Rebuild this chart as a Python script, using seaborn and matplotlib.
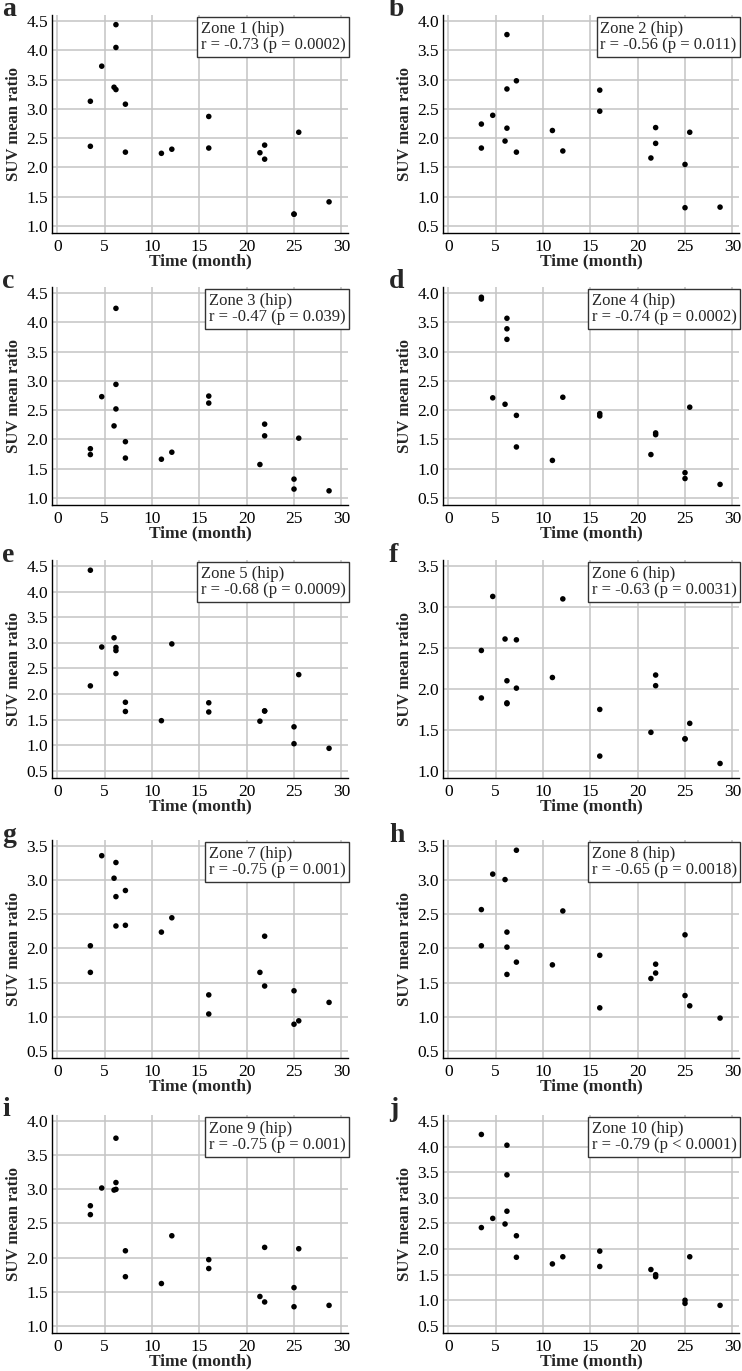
import matplotlib
matplotlib.use("Agg")
import matplotlib.pyplot as plt
import seaborn as sns
import numpy as np
import pandas as pd

# scan times (months), shared by all zones
months = [3.5, 3.5, 4.7, 6.0, 6.2, 6.2, 6.2, 7.2, 7.2, 11.0, 12.1,
          16.0, 16.0, 21.4, 21.9, 21.9, 25.0, 25.0, 25.5, 28.7]

zone1 = [3.13, 2.36, 3.73, 3.37, 3.33, 4.44, 4.05, 3.08, 2.26, 2.24, 2.31, 2.87, 2.33, 2.25, 2.38, 2.14, 1.20, 1.20, 2.60, 1.41]
zone2 = [2.24, 1.83, 2.39, 1.95, 3.77, 2.84, 2.17, 2.98, 1.76, 2.13, 1.78, 2.82, 2.46, 1.66, 2.18, 1.91, 1.55, 0.81, 2.10, 0.82]
zone3 = [1.84, 1.74, 2.73, 2.23, 4.24, 2.94, 2.52, 1.96, 1.68, 1.66, 1.78, 2.74, 2.62, 1.57, 2.26, 2.06, 1.32, 1.15, 2.02, 1.12]
zone4 = [3.93, 3.90, 2.21, 2.10, 3.57, 3.39, 3.21, 1.91, 1.37, 1.14, 2.22, 1.94, 1.90, 1.24, 1.61, 1.58, 0.93, 0.83, 2.05, 0.73]
zone5 = [4.42, 2.16, 2.92, 3.10, 2.91, 2.85, 2.40, 1.84, 1.66, 1.48, 2.98, 1.83, 1.65, 1.47, 1.67, 1.67, 1.36, 1.03, 2.38, 0.94]
zone6 = [2.47, 1.89, 3.13, 2.61, 2.10, 1.83, 1.82, 2.60, 2.01, 2.14, 3.10, 1.75, 1.18, 1.47, 2.17, 2.04, 1.39, 1.39, 1.58, 1.09]
zone7 = [2.04, 1.65, 3.36, 3.03, 3.26, 2.76, 2.33, 2.85, 2.34, 2.24, 2.45, 1.32, 1.04, 1.65, 2.18, 1.45, 1.38, 0.89, 0.94, 1.21]
zone8 = [2.57, 2.04, 3.09, 3.01, 2.24, 2.02, 1.62, 3.44, 1.80, 1.76, 2.55, 1.90, 1.13, 1.56, 1.77, 1.64, 2.20, 1.31, 1.16, 0.98]
zone9 = [2.76, 2.63, 3.02, 2.99, 3.75, 3.10, 3.00, 2.10, 1.72, 1.62, 2.32, 1.97, 1.84, 1.43, 2.15, 1.35, 1.56, 1.28, 2.13, 1.30]
zone10 = [4.24, 2.42, 2.60, 2.49, 4.03, 3.45, 2.74, 2.26, 1.84, 1.71, 1.85, 1.96, 1.66, 1.60, 1.50, 1.46, 1.00, 0.94, 1.85, 0.90]

zones = [zone1, zone2, zone3, zone4, zone5, zone6, zone7, zone8, zone9, zone10]
panel_letters = ["a", "b", "c", "d", "e", "f", "g", "h", "i", "j"]
r_values = ["-0.73", "-0.56", "-0.47", "-0.74", "-0.68", "-0.63", "-0.75", "-0.65", "-0.75", "-0.79"]
p_values = ["p = 0.0002", "p = 0.011", "p = 0.039", "p = 0.0002", "p = 0.0009",
            "p = 0.0031", "p = 0.001", "p = 0.0018", "p = 0.001", "p < 0.0001"]
y_ticks = [(1.0, 4.5), (0.5, 4.0), (1.0, 4.5), (0.5, 4.0), (0.5, 4.5),
           (1.0, 3.5), (0.5, 3.5), (0.5, 3.5), (1.0, 4.0), (0.5, 4.5)]

sns.set_style("white")
plt.rcParams['font.family'] = ['Liberation Serif', 'DejaVu Serif']

fig = plt.figure(figsize=(7.42, 13.71), dpi=100)
W, H = 742, 1371
col_left = [52, 443]
ax_w = 296
ax_h = 218
row_bottom = [233, 505, 778, 1058, 1333]

for i, suv in enumerate(zones):
    row, col = i // 2, i % 2
    left = col_left[col] / W
    bottom = 1 - row_bottom[row] / H
    ax = fig.add_axes([left, bottom, ax_w / W, ax_h / H])

    df = pd.DataFrame({"month": months, "suv": suv})
    sns.scatterplot(data=df, x="month", y="suv", ax=ax, color="black",
                    s=16, edgecolor="none", zorder=3)

    lo, hi = y_ticks[i]
    ticks = np.arange(lo, hi + 0.01, 0.5)
    span = hi - lo
    ax.set_ylim(lo - 0.035 * span, hi + 0.03 * span)
    ax.set_yticks(ticks)
    ax.set_yticklabels([f"{t:.1f}" for t in ticks])
    ax.set_xlim(-0.55, 30.7)
    ax.set_xticks(range(0, 31, 5))

    ax.grid(True, color="#c4c4c4", linewidth=1.1)
    ax.set_axisbelow(True)
    for side in ["top", "right"]:
        ax.spines[side].set_visible(False)
    for side in ["left", "bottom"]:
        ax.spines[side].set_color("black")
        ax.spines[side].set_linewidth(1.0)
    ax.tick_params(direction="in", length=4, width=1, labelsize=12.5, pad=3, colors="black")
    ax.tick_params(axis="x", pad=4)

    ax.set_xlabel("Time (month)", fontsize=12.5, fontweight="bold", labelpad=-1)
    ax.set_ylabel("SUV mean ratio", fontsize=12, fontweight="bold", labelpad=3)

    label = f"Zone {i + 1} (hip)\nr = {r_values[i]} ({p_values[i]})"
    ax.text(0.992, 0.972, label, transform=ax.transAxes, ha="right", va="top",
            multialignment="left", fontsize=12, linespacing=1.0,
            bbox=dict(boxstyle="square,pad=0.22", fc="white", ec="#333333", lw=1.0),
            zorder=5)

    top_px = row_bottom[row] - ax_h
    lx = 2 if col == 0 else 389
    fig.text(lx / W, 1 - (top_px - 5) / H, panel_letters[i], fontsize=20,
             fontweight="bold", ha="left", va="center")

fig.savefig("out.png", dpi=100)
